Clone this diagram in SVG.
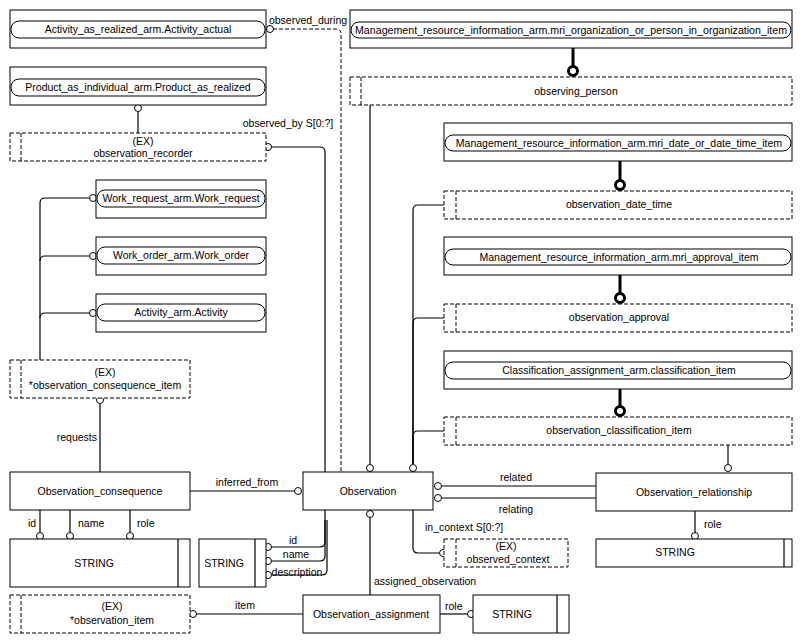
<svg xmlns="http://www.w3.org/2000/svg" width="800" height="643" viewBox="0 0 800 643">
<style>
text{font-family:"Liberation Sans",Arial,sans-serif;font-size:10.5px;fill:#000}
.c{text-anchor:middle}
.b{fill:#fff;stroke:#000;stroke-width:1}
.d{fill:#fff;stroke:#000;stroke-width:1;stroke-dasharray:4,2}
.dl{fill:none;stroke:#000;stroke-width:1;stroke-dasharray:4,2}
.p{fill:#fff;stroke:#000;stroke-width:1}
.l{fill:none;stroke:#000;stroke-width:1.2}
.t{fill:none;stroke:#000;stroke-width:3}
.o{fill:#fff;stroke:#000;stroke-width:1}
.ot{fill:#fff;stroke:#000;stroke-width:3}
</style>
<rect width="800" height="643" fill="#fff"/>
<g id="connectors">
<path class="dl" d="M273,29 H336 Q341,29 341,34 V472"/>
<path class="l" d="M271,147 H320 Q325,147 325,152 V472"/>
<path class="l" d="M138,112 V133"/>
<path class="t" d="M573,48 V67"/>
<path class="l" d="M370,105 V464"/>
<path class="t" d="M620,161 V181"/>
<path class="t" d="M620,275 V294"/>
<path class="t" d="M620,389 V407"/>
<path class="l" d="M444,205 H418 Q413,205 413,210 V464"/>
<path class="l" d="M444,318 H418 Q413,318 413,323 V464"/>
<path class="l" d="M444,431 H418 Q413,431 413,436 V464"/>
<path class="l" d="M728,445 V464"/>
<path class="l" d="M442,486 H596"/>
<path class="l" d="M442,498 H596"/>
<path class="l" d="M695,511 V533"/>
<path class="l" d="M413,510 V548 Q413,553 418,553 H439"/>
<path class="l" d="M370,518 V595"/>
<path class="l" d="M440,614 H467"/>
<path class="l" d="M303,614 H197"/>
<path class="l" d="M190,491 H294"/>
<path class="l" d="M100,404 V472"/>
<path class="l" d="M40,510 V532 M70,510 V532 M130,510 V532"/>
<path class="l" d="M325,510 V542 Q325,547 320,547 H272"/>
<path class="l" d="M325,520 V556 Q325,561 320,561 H272"/>
<path class="l" d="M327,520 V570 Q327,575 322,575 H272"/>
<path class="l" d="M40,360 V203 Q40,198 45,198 H89"/>
<path class="l" d="M40,261 Q40,256 45,256 H89"/>
<path class="l" d="M40,318 Q40,313 45,313 H89"/>
<circle class="o" cx="270" cy="29" r="3.5"/>
<circle class="o" cx="268" cy="147" r="3.5"/>
<circle class="o" cx="138" cy="108" r="3.5"/>
<circle class="ot" cx="573" cy="71" r="4.5"/>
<circle class="o" cx="370" cy="468" r="3.5"/>
<circle class="ot" cx="620" cy="185" r="4.5"/>
<circle class="ot" cx="620" cy="298" r="4.5"/>
<circle class="ot" cx="620" cy="411" r="4.5"/>
<circle class="o" cx="413" cy="468" r="3.5" stroke-width="2"/>
<circle class="o" cx="728" cy="468" r="3.5"/>
<circle class="o" cx="438" cy="486" r="3.5"/>
<circle class="o" cx="438" cy="498" r="3.5"/>
<circle class="o" cx="695" cy="536" r="3.5"/>
<circle class="o" cx="443" cy="553" r="3.5"/>
<circle class="o" cx="370" cy="514" r="3.5"/>
<circle class="o" cx="471" cy="614" r="3.5"/>
<circle class="o" cx="193" cy="614" r="3.5"/>
<circle class="o" cx="298" cy="491" r="3.5"/>
<circle class="o" cx="100" cy="400" r="3.5"/>
<circle class="o" cx="40" cy="536" r="3.5"/>
<circle class="o" cx="70" cy="536" r="3.5"/>
<circle class="o" cx="130" cy="536" r="3.5"/>
<circle class="o" cx="268" cy="547" r="3.5"/>
<circle class="o" cx="268" cy="561" r="3.5"/>
<circle class="o" cx="268" cy="575" r="3.5"/>
<circle class="o" cx="93" cy="198" r="3.5"/>
<circle class="o" cx="93" cy="256" r="3.5"/>
<circle class="o" cx="93" cy="313" r="3.5"/>
<text x="308" y="24" class="c">observed_during</text>
<text x="288" y="127" class="c">observed_by S[0:?]</text>
<text x="516" y="481" class="c">related</text>
<text x="516" y="513" class="c">relating</text>
<text x="704" y="528">role</text>
<text x="425" y="531">in_context S[0:?]</text>
<text x="374" y="585">assigned_observation</text>
<text x="445" y="610">role</text>
<text x="245" y="609" class="c">item</text>
<text x="247" y="486" class="c">inferred_from</text>
<text x="97" y="441" text-anchor="end">requests</text>
<text x="28" y="527">id</text>
<text x="78" y="527">name</text>
<text x="137" y="527">role</text>
<text x="293" y="544" class="c">id</text>
<text x="296" y="558" class="c">name</text>
<text x="297" y="576" class="c">description</text>
</g>
<g id="Activity_actual"><rect class="b" x="10" y="10" width="256" height="38"/><rect class="p" x="11" y="21" width="254" height="17" rx="8"/><text x="138" y="33" class="c">Activity_as_realized_arm.Activity_actual</text></g>
<g id="Product_as_realized"><rect class="b" x="10" y="67" width="256" height="38"/><rect class="p" x="11" y="79" width="254" height="17" rx="8"/><text x="138" y="91" class="c">Product_as_individual_arm.Product_as_realized</text></g>
<g id="observation_recorder"><rect class="d" x="10" y="133" width="256" height="28"/><path class="dl" d="M21,133 V161"/><text x="143" y="145" class="c">(EX)</text><text x="143" y="157" class="c">observation_recorder</text></g>
<g id="Work_request"><rect class="b" x="96" y="180" width="170" height="38"/><rect class="p" x="97" y="190" width="168" height="17" rx="8"/><text x="181" y="202" class="c">Work_request_arm.Work_request</text></g>
<g id="Work_order"><rect class="b" x="96" y="237" width="170" height="38"/><rect class="p" x="97" y="247" width="168" height="17" rx="8"/><text x="181" y="259" class="c">Work_order_arm.Work_order</text></g>
<g id="Activity"><rect class="b" x="96" y="294" width="170" height="38"/><rect class="p" x="97" y="304" width="168" height="17" rx="8"/><text x="181" y="316" class="c">Activity_arm.Activity</text></g>
<g id="observation_consequence_item"><rect class="d" x="10" y="360" width="180" height="38"/><path class="dl" d="M21,360 V398"/><text x="105" y="376" class="c">(EX)</text><text x="105" y="389" class="c">*observation_consequence_item</text></g>
<g id="Observation_consequence"><rect class="b" x="10" y="472" width="180" height="38"/><text x="100" y="495" class="c">Observation_consequence</text></g>
<g id="STRING1"><rect class="b" x="10" y="539" width="180" height="48"/><path class="l" d="M178,539 V587"/><text x="94" y="567" class="c">STRING</text></g>
<g id="STRING2"><rect class="b" x="199" y="539" width="67" height="48"/><path class="l" d="M255,539 V587"/><text x="224" y="567" class="c">STRING</text></g>
<g id="observation_item"><rect class="d" x="10" y="595" width="180" height="38"/><path class="dl" d="M21,595 V633"/><text x="112" y="610" class="c">(EX)</text><text x="112" y="624" class="c">*observation_item</text></g>
<g id="Observation"><rect class="b" x="303" y="472" width="130" height="38"/><text x="368" y="495" class="c">Observation</text></g>
<g id="Observation_assignment"><rect class="b" x="303" y="595" width="137" height="38"/><text x="371" y="618" class="c">Observation_assignment</text></g>
<g id="STRING3"><rect class="b" x="473" y="595" width="96" height="38"/><path class="l" d="M557,595 V633"/><text x="512" y="618" class="c">STRING</text></g>
<g id="mri_org"><rect class="b" x="350" y="10" width="442" height="38"/><rect class="p" x="351" y="22" width="440" height="16" rx="8"/><text x="571" y="34" class="c" textLength="432" lengthAdjust="spacingAndGlyphs">Management_resource_information_arm.mri_organization_or_person_in_organization_item</text></g>
<g id="observing_person"><rect class="d" x="350" y="77" width="442" height="28"/><path class="dl" d="M361,77 V105"/><text x="576" y="95" class="c">observing_person</text></g>
<g id="mri_date"><rect class="b" x="444" y="123" width="348" height="38"/><rect class="p" x="445" y="135" width="346" height="16" rx="8"/><text x="619" y="147" class="c">Management_resource_information_arm.mri_date_or_date_time_item</text></g>
<g id="observation_date_time"><rect class="d" x="444" y="191" width="348" height="28"/><path class="dl" d="M456,191 V219"/><text x="619" y="208" class="c">observation_date_time</text></g>
<g id="mri_approval"><rect class="b" x="444" y="237" width="348" height="38"/><rect class="p" x="445" y="249" width="346" height="16" rx="8"/><text x="619" y="261" class="c">Management_resource_information_arm.mri_approval_item</text></g>
<g id="observation_approval"><rect class="d" x="444" y="304" width="348" height="28"/><path class="dl" d="M456,304 V332"/><text x="619" y="321" class="c">observation_approval</text></g>
<g id="classification_item"><rect class="b" x="444" y="351" width="348" height="38"/><rect class="p" x="445" y="362" width="346" height="17" rx="8"/><text x="619" y="374" class="c">Classification_assignment_arm.classification_item</text></g>
<g id="observation_classification_item"><rect class="d" x="444" y="417" width="348" height="28"/><path class="dl" d="M456,417 V445"/><text x="619" y="434" class="c">observation_classification_item</text></g>
<g id="Observation_relationship"><rect class="b" x="596" y="473" width="196" height="38"/><text x="694" y="496" class="c">Observation_relationship</text></g>
<g id="STRING4"><rect class="b" x="596" y="539" width="196" height="28"/><path class="l" d="M784,539 V567"/><text x="675" y="556" class="c">STRING</text></g>
<g id="observed_context"><rect class="d" x="444" y="539" width="124" height="28"/><path class="dl" d="M456,539 V567"/><text x="506" y="550" class="c">(EX)</text><text x="508" y="563" class="c">observed_context</text></g>
</svg>
